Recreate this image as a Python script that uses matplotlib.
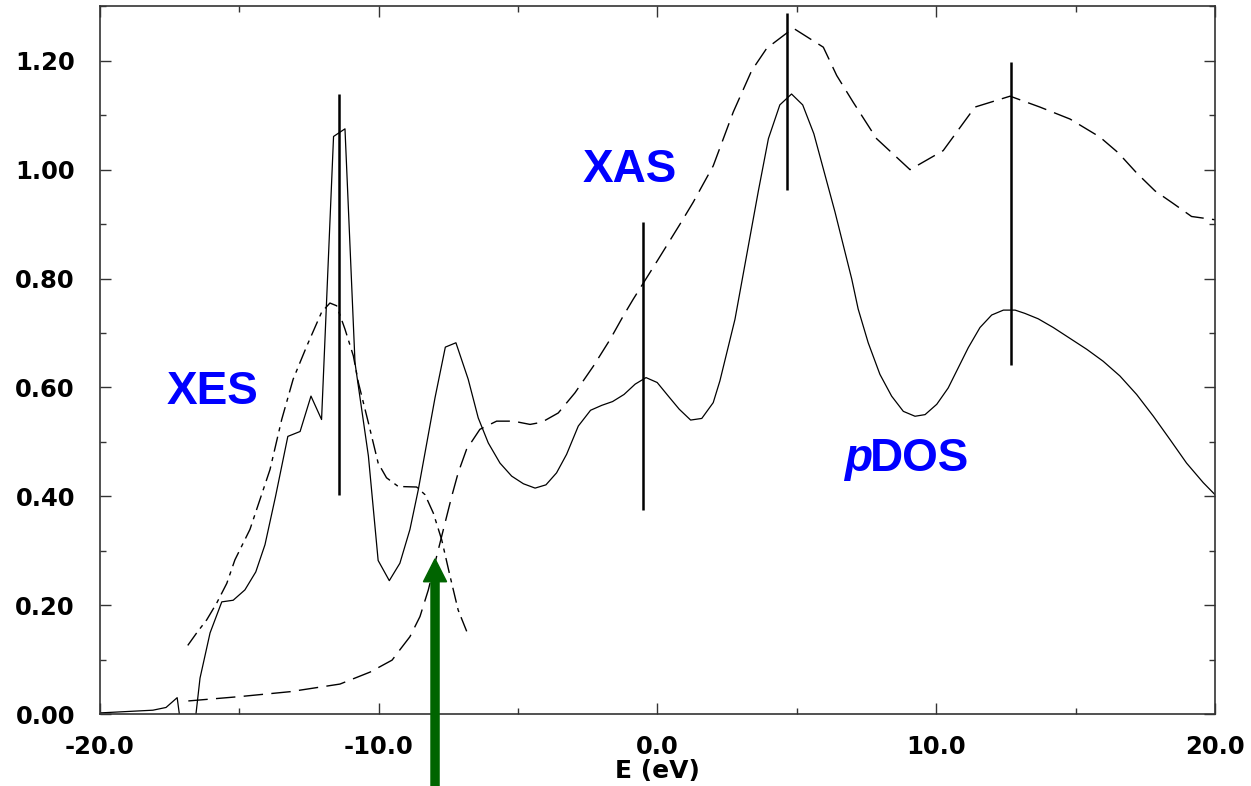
import matplotlib
matplotlib.use("Agg")
import matplotlib.pyplot as plt
from matplotlib.ticker import MultipleLocator, FormatStrFormatter

# pDOS (solid)
pdos_e = [-20.00, -18.10, -17.63, -17.23, -17.10, -16.60, -16.41, -16.05, -15.63, -15.22,
          -14.80, -14.41, -14.08, -13.70, -13.26, -12.82, -12.43, -12.05, -11.62, -11.21,
          -10.85, -10.37, -10.02, -9.62, -9.24, -8.88, -8.58, -7.98, -7.61, -7.23,
          -6.79, -6.43, -6.07, -5.65, -5.23, -4.81, -4.39, -4.00, -3.62, -3.26,
          -2.84, -2.40, -2.00, -1.61, -1.20, -0.80, -0.41, -0.01, 0.39, 0.78,
          1.19, 1.59, 2.00, 2.24, 2.78, 3.62, 3.98, 4.39, 4.81, 5.21,
          5.61, 6.37, 6.97, 7.20, 7.56, 7.98, 8.40, 8.82, 9.24, 9.60,
          10.02, 10.43, 10.79, 11.15, 11.57, 11.99, 12.41, 12.83, 13.18, 13.66,
          14.20, 14.80, 15.40, 15.99, 16.59, 17.19, 17.79, 18.39, 18.98, 19.58, 20.00]
pdos = [0.002, 0.007, 0.012, 0.030, -0.02, -0.02, 0.066, 0.149, 0.206, 0.209,
        0.228, 0.261, 0.311, 0.400, 0.510, 0.519, 0.584, 0.541, 1.061, 1.075,
        0.645, 0.474, 0.282, 0.245, 0.277, 0.339, 0.412, 0.581, 0.674, 0.682,
        0.615, 0.544, 0.498, 0.461, 0.437, 0.423, 0.415, 0.421, 0.443, 0.477,
        0.529, 0.558, 0.567, 0.574, 0.587, 0.606, 0.618, 0.609, 0.584, 0.560,
        0.540, 0.543, 0.572, 0.612, 0.725, 0.961, 1.057, 1.119, 1.139, 1.119,
        1.066, 0.922, 0.799, 0.744, 0.682, 0.624, 0.584, 0.556, 0.547, 0.550,
        0.569, 0.599, 0.636, 0.673, 0.710, 0.733, 0.742, 0.742, 0.736, 0.726,
        0.710, 0.690, 0.670, 0.648, 0.621, 0.587, 0.547, 0.504, 0.461, 0.425, 0.403]

# XAS (long dashes)
xas_e = [-16.83, -14.98, -13.18, -11.39, -10.31, -9.52, -9.24, -8.88, -8.52, -8.22,
         -7.92, -7.68, -7.38, -7.15, -6.85, -6.37, -5.77, -5.17, -4.57, -4.15,
         -3.56, -2.96, -2.30, -1.70, -1.23, -0.87, 0.00, 0.81, 1.28, 2.00,
         2.72, 3.38, 3.92, 4.87, 5.95, 6.43, 7.02, 7.86, 9.06, 10.25,
         11.39, 12.65, 13.72, 14.80, 15.87, 16.53, 17.19, 17.85, 18.50, 19.16, 20.00]
xas = [0.024, 0.032, 0.041, 0.055, 0.077, 0.099, 0.118, 0.142, 0.179, 0.228,
       0.290, 0.339, 0.400, 0.443, 0.486, 0.523, 0.538, 0.538, 0.532, 0.536,
       0.553, 0.590, 0.639, 0.688, 0.731, 0.762, 0.833, 0.900, 0.940, 1.007,
       1.106, 1.182, 1.223, 1.260, 1.225, 1.173, 1.124, 1.057, 1.000, 1.035,
       1.115, 1.135, 1.115, 1.093, 1.060, 1.031, 0.994, 0.961, 0.938, 0.914, 0.908]

# XES (dash-dot)
xes_e = [-16.85, -16.53, -16.17, -15.81, -15.45, -15.16, -14.62, -13.90, -13.48, -13.07,
         -12.58, -12.05, -11.75, -11.51, -11.21, -10.91, -10.73, -10.37, -10.02, -9.72,
         -9.30, -8.64, -8.34, -8.04, -7.74, -7.44, -7.15, -6.79]
xes = [0.126, 0.149, 0.173, 0.204, 0.240, 0.283, 0.339, 0.449, 0.541, 0.615,
       0.676, 0.738, 0.755, 0.750, 0.707, 0.658, 0.609, 0.535, 0.461, 0.434,
       0.418, 0.417, 0.403, 0.369, 0.320, 0.253, 0.191, 0.145]

# vertical marker lines
mark_e = [-11.43, -0.52, 4.63, 12.68]
mark_lo = [0.403, 0.374, 0.963, 0.641]
mark_hi = [1.139, 0.904, 1.287, 1.198]

arrow_e = -7.98
arrow_tip = 0.285

fig = plt.figure(figsize=(12.51, 7.86), dpi=100)
ax = fig.add_axes([0.0799, 0.0916, 0.8913, 0.9003])

ax.plot(pdos_e, pdos, color='black', linewidth=0.9)
ax.plot(xas_e, xas, color='black', linewidth=1.0, linestyle=(0, (14, 6)))
ax.plot(xes_e, xes, color='black', linewidth=1.0, linestyle=(0, (11, 4, 3, 4)))
ax.vlines(mark_e, mark_lo, mark_hi, colors='black', linewidth=1.8)

# green arrow below the axis
ax.arrow(arrow_e, -0.14, 0, arrow_tip + 0.14, width=0.29, head_width=0.83,
         head_length=0.042, length_includes_head=True, color='#006400',
         clip_on=False, zorder=5)

lab = dict(color='#0000ff', fontsize=33, fontweight='bold', family='Liberation Sans')
ax.text(-17.6, 0.569, 'XES', ha='left', va='baseline', **lab)
ax.text(-2.67, 0.977, 'XAS', ha='left', va='baseline', **lab)
ax.text(7.68, 0.446, 'p', ha='right', va='baseline', style='italic', **lab)
ax.text(7.62, 0.446, 'DOS', ha='left', va='baseline', **lab)

ax.set_xlim(-20, 20)
ax.set_ylim(0, 1.30)
ax.xaxis.set_major_locator(MultipleLocator(10))
ax.xaxis.set_minor_locator(MultipleLocator(5))
ax.yaxis.set_major_locator(MultipleLocator(0.2))
ax.yaxis.set_minor_locator(MultipleLocator(0.1))
ax.xaxis.set_major_formatter(FormatStrFormatter('%.1f'))
ax.yaxis.set_major_formatter(FormatStrFormatter('%.2f'))

ax.tick_params(which='both', direction='in', top=True, right=True, color='#333333', width=1)
ax.tick_params(which='major', length=8)
ax.tick_params(which='minor', length=4)
ax.tick_params(axis='y', which='major', pad=18)
ax.tick_params(axis='x', which='major', pad=15)
for t in ax.get_xticklabels() + ax.get_yticklabels():
    t.set_fontfamily('DejaVu Sans')
    t.set_fontweight('bold')
    t.set_fontsize(17.5)

for s in ax.spines.values():
    s.set_color('#333333')
    s.set_linewidth(1.2)

ax.set_xlabel('E (eV)', fontsize=18, fontweight='bold', family='DejaVu Sans', labelpad=0)

fig.savefig('out.png', dpi=100)
